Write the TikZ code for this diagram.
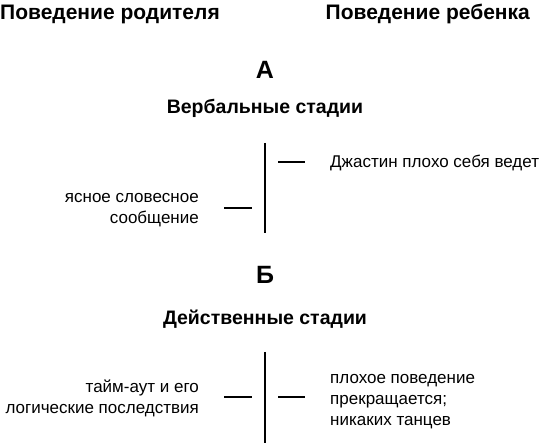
\documentclass[tikz,border=0pt]{standalone}
\usepackage{fontspec}
\setmainfont{Liberation Sans}
\usepackage{tikz}
\usetikzlibrary{positioning, calc}

\begin{document}
\begin{tikzpicture}[
    x=1pt, y=-1pt,
    head/.style={font=\fontsize{21}{24}\selectfont\bfseries, inner sep=0pt},
    letter/.style={font=\fontsize{25}{28}\selectfont\bfseries, inner sep=0pt},
    stage/.style={font=\fontsize{19.5}{23}\selectfont\bfseries, inner sep=0pt},
    txt/.style={font=\fontsize{17}{21}\selectfont, inner sep=0pt},
    lefttxt/.style={txt, align=right, anchor=east},
    righttxt/.style={txt, align=left, anchor=west},
    bar/.style={line width=1.8pt},
    tick/.style={line width=1.4pt},
]
\useasboundingbox (0,0) rectangle (542,443);

% column heads
\node[head, anchor=west] (parent) at (0,14) {Поведение родителя};
\node[head, anchor=east] (child) at (530,14) {Поведение ребенка};

% Part A: verbal stages
\node[letter] (lettA) at (265,70) {А};
\node[stage] (verbal) at (265,108) {Вербальные стадии};
\coordinate (topA) at (265,143);
\coordinate (botA) at (265,233);
\draw[bar] (topA) -- (botA);

\node[righttxt] (misbehave) at (330,163) {Джастин плохо себя ведет};
\coordinate (rA1) at (278,162);
\coordinate (rA2) at (305,162);
\draw[tick] (rA1) -- (rA2);

\node[lefttxt] (message) at (199,210) {ясное словесное\\сообщение};
\coordinate (lA1) at (224,208);
\coordinate (lA2) at (252,208);
\draw[tick] (lA1) -- (lA2);

% Part B: action stages
\node[letter] (lettB) at (265,275) {Б};
\node[stage] (action) at (265,319) {Действенные стадии};
\coordinate (topB) at (265,352);
\coordinate (botB) at (265,443);
\draw[bar] (topB) -- (botB);

\node[lefttxt] (timeout) at (199,398) {тайм-аут и его\\логические последствия};
\coordinate (lB1) at (224,397);
\coordinate (lB2) at (252,397);
\draw[tick] (lB1) -- (lB2);

\node[righttxt] (stops) at (330,402) {плохое поведение\\прекращается;\\никаких танцев};
\coordinate (rB1) at (278,397);
\coordinate (rB2) at (305,397);
\draw[tick] (rB1) -- (rB2);

\end{tikzpicture}
\end{document}
